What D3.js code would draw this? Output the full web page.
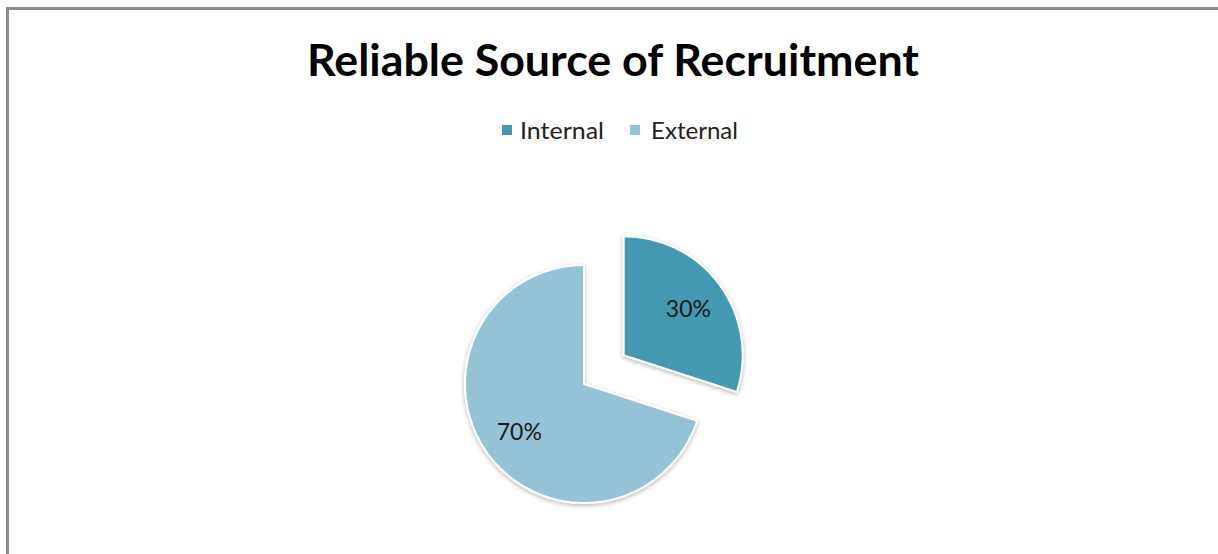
<!DOCTYPE html>
<html>
<head>
<meta charset="utf-8">
<script src="https://cdn.jsdelivr.net/npm/d3@7"></script>
<style>
  html, body { margin: 0; padding: 0; background: #fff; }
  svg { display: block; }
</style>
</head>
<body>
<svg id="chart" width="1218" height="554"></svg>
<script>
// Share of hires by recruitment source (percent)
const categories = ["Internal", "External"];
const values = [30, 70];
const colors = ["#4399b1", "#93c3d5"];
const title = "Reliable Source of Recruitment";

const svg = d3.select("#chart");
const W = 1218, H = 554;
const font = "Lato, 'Open Sans', sans-serif";

// Outer frame
svg.append("rect")
  .attr("x", 7.5).attr("y", 8.5)
  .attr("width", W + 10).attr("height", H + 10)
  .attr("fill", "#fff")
  .attr("stroke", "#8c8c8c").attr("stroke-width", 3);

// Soft shadow under slices
const defs = svg.append("defs");
const f = defs.append("filter").attr("id", "shadow")
  .attr("x", "-20%").attr("y", "-20%").attr("width", "140%").attr("height", "140%");
f.append("feDropShadow").attr("dx", 0).attr("dy", 1.5)
  .attr("stdDeviation", 2).attr("flood-color", "#000").attr("flood-opacity", 0.3);

// Title
svg.append("text")
  .attr("x", 613).attr("y", 76)
  .attr("text-anchor", "middle")
  .attr("font-family", font)
  .attr("font-weight", "bold")
  .attr("font-size", 43)
  .attr("textLength", 612)
  .attr("lengthAdjust", "spacingAndGlyphs")
  .attr("fill", "#000")
  .text(title);

// Legend
const legendItems = [
  { x: 502, textX: 520, len: 84 },
  { x: 630, textX: 651, len: 87 }
];
const legend = svg.append("g");
categories.forEach((c, i) => {
  legend.append("rect")
    .attr("x", legendItems[i].x).attr("y", 125)
    .attr("width", 10).attr("height", 10)
    .attr("fill", colors[i]);
  legend.append("text")
    .attr("x", legendItems[i].textX).attr("y", 139)
    .attr("font-family", font)
    .attr("font-size", 23)
    .attr("textLength", legendItems[i].len)
    .attr("lengthAdjust", "spacingAndGlyphs")
    .attr("fill", "#222")
    .text(c);
});

// Pie
const cx = 584, cy = 384, r = 119, explode = 49;
const pie = d3.pie().sort(null).value(d => d)(values);
const arc = d3.arc().innerRadius(0).outerRadius(r);
const labelArc = d3.arc().innerRadius(80).outerRadius(80);

const g = svg.append("g").attr("transform", `translate(${cx},${cy})`);
const slices = g.selectAll("g.slice").data(pie).enter().append("g")
  .attr("class", "slice")
  .attr("transform", (d, i) => {
    if (i !== 0) return null;
    const mid = (d.startAngle + d.endAngle) / 2;
    return `translate(${Math.sin(mid) * explode},${-Math.cos(mid) * explode})`;
  });

slices.append("path")
  .attr("d", arc)
  .attr("fill", (d, i) => colors[i])
  .attr("stroke", "#fff")
  .attr("stroke-width", 2)
  .attr("filter", "url(#shadow)");

slices.append("text")
  .attr("transform", d => `translate(${labelArc.centroid(d)})`)
  .attr("text-anchor", "middle")
  .attr("dy", "0.4em")
  .attr("font-family", font)
  .attr("font-size", 23)
  .attr("fill", "#1a1a1a")
  .text(d => d.data + "%");
</script>
</body>
</html>
